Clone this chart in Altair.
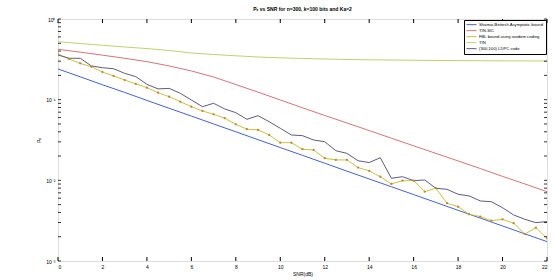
import altair as alt
import pandas as pd

# ---------------- data ----------------
snr_int = [0, 1, 2, 3, 4, 5, 6, 7, 8, 9, 10, 11, 12, 13, 14, 15, 16, 17, 18, 19, 20, 21, 22]
snr_half = [0, 0.5, 1, 1.5, 2, 2.5, 3, 3.5, 4, 4.5, 5, 5.5, 6, 6.5, 7, 7.5, 8, 8.5, 9, 9.5,
            10, 10.5, 11, 11.5, 12, 12.5, 13, 13.5, 14, 14.5, 15, 15.5, 16, 16.5, 17, 17.5,
            18, 18.5, 19, 19.5, 20, 20.5, 21, 21.5, 22]

shamai = [0.240, 0.192, 0.153, 0.123, 0.0979, 0.0782, 0.0626, 0.0500, 0.0400, 0.0319,
          0.0255, 0.0204, 0.0163, 0.0130, 0.0104, 0.00833, 0.00666, 0.00532, 0.00425,
          0.00340, 0.00272, 0.00217, 0.00174]
tin_sic = [0.421, 0.388, 0.356, 0.326, 0.296, 0.262, 0.227, 0.191, 0.154, 0.124, 0.0991,
           0.0793, 0.0637, 0.0514, 0.0414, 0.0333, 0.0268, 0.0216, 0.0174, 0.0140, 0.0112,
           0.00903, 0.00723]
tin = [0.523, 0.497, 0.472, 0.450, 0.430, 0.407, 0.379, 0.363, 0.350, 0.338, 0.330, 0.324,
       0.319, 0.315, 0.312, 0.310, 0.308, 0.306, 0.305, 0.304, 0.303, 0.302, 0.302]
fbl = [0.368, 0.319, 0.282, 0.256, 0.220, 0.197, 0.175, 0.157, 0.141, 0.122, 0.109, 0.0944,
       0.0818, 0.0724, 0.0659, 0.0589, 0.0495, 0.0430, 0.0422, 0.0366, 0.0293, 0.0293,
       0.0243, 0.0238, 0.0188, 0.0179, 0.0179, 0.0144, 0.0131, 0.0111, 0.00902, 0.00991,
       0.00991, 0.00724, 0.00798, 0.00520, 0.00472, 0.00380, 0.00355, 0.00316, 0.00329,
       0.00294, 0.00216, 0.00259, 0.00191]
ldpc = [0.358, 0.326, 0.326, 0.262, 0.249, 0.242, 0.212, 0.193, 0.155, 0.136, 0.138, 0.120,
        0.0991, 0.0818, 0.0902, 0.0767, 0.0690, 0.0571, 0.0633, 0.0533, 0.0442, 0.0365,
        0.0358, 0.0316, 0.0301, 0.0233, 0.0216, 0.0175, 0.0166, 0.0191, 0.0106, 0.0111,
        0.00991, 0.0101, 0.00797, 0.00774, 0.00672, 0.00640, 0.00555, 0.00543, 0.00458,
        0.00372, 0.00329, 0.00299, 0.00308]

series_names = ["Shamai-Bettesh Asymptotic bound", "TIN-SIC",
                "FBL bound using random coding", "TIN", "(300,100) LDPC code"]
series_colors = ["#4563c9", "#d4747a", "#c9c23c", "#c2d06e", "#5d5c7c"]

x_ticks = [0, 2, 4, 6, 8, 10, 12, 14, 16, 18, 20, 22]
y_major = [0.001, 0.01, 0.1, 1]
y_major_labels = ["10⁻³", "10⁻²", "10⁻¹", "10⁰"]
y_minor = [0.002, 0.003, 0.004, 0.005, 0.006, 0.007, 0.008, 0.009,
           0.02, 0.03, 0.04, 0.05, 0.06, 0.07, 0.08, 0.09,
           0.2, 0.3, 0.4, 0.5, 0.6, 0.7, 0.8, 0.9]

title_text = "Pₑ vs SNR for n=300, k=100 bits and Ka=2"

# ---------------- build tables ----------------
rows = []
for name, xs, ys in [(series_names[0], snr_int, shamai),
                     (series_names[1], snr_int, tin_sic),
                     (series_names[2], snr_half, fbl),
                     (series_names[3], snr_int, tin),
                     (series_names[4], snr_half, ldpc)]:
    for xv, yv in zip(xs, ys):
        rows.append({"series": name, "snr": xv, "pe": yv})
df = pd.DataFrame(rows)
df_fbl = df[df["series"] == series_names[2]]

W, H = 489, 242
FONT = "Liberation Sans"

label_expr = " : ".join(
    f"datum.value < {v * 1.5} ? '{lab}'" for v, lab in zip(y_major, y_major_labels)
) + " : ''"

xscale = alt.Scale(domain=[0, 22], nice=False, zero=False)
yscale = alt.Scale(type="log", domain=[0.001, 1], nice=False)

x_axis = alt.Axis(values=x_ticks, ticks=False, domain=False, grid=False,
                  labelFontSize=5, labelPadding=3, labelFont=FONT, labelColor="black",
                  title="SNR(dB)", titleFontSize=5, titleFont=FONT, titleColor="black",
                  titleFontWeight="normal", titlePadding=2)
y_axis = alt.Axis(values=y_major, ticks=False, domain=False, grid=False,
                  labelExpr=label_expr, labelFontSize=5, labelPadding=3,
                  labelFont=FONT, labelColor="black", title="Pₑ", titleFontSize=5,
                  titleFont=FONT, titleColor="black", titleFontWeight="normal",
                  titlePadding=4)

X = alt.X("snr:Q", scale=xscale, axis=x_axis)
Y = alt.Y("pe:Q", scale=yscale, axis=y_axis)

lines = alt.Chart(df).mark_line(strokeWidth=1, clip=True).encode(
    x=X, y=Y,
    color=alt.Color("series:N", sort=series_names,
                    scale=alt.Scale(domain=series_names, range=series_colors),
                    legend=alt.Legend(title=None, orient="top-right", offset=1,
                                      symbolType="stroke", symbolSize=100,
                                      symbolStrokeWidth=1, clipHeight=5.3,
                                      rowPadding=0, padding=2, labelFontSize=4.2,
                                      labelFont=FONT, labelOffset=2,
                                      strokeColor="black", fillColor="white",
                                      labelLimit=200)),
    order="snr:Q",
)

points = alt.Chart(df_fbl).mark_point(filled=True, size=5, color="#c8802c",
                                      opacity=1, clip=True).encode(x=X, y=Y)

df_xt = pd.DataFrame({"snr": x_ticks})
xt_bottom = alt.Chart(df_xt).mark_rule(color="black", strokeWidth=1).encode(
    x=X, y=alt.value(H), y2=alt.value(H - 4))
xt_top = alt.Chart(df_xt).mark_rule(color="black", strokeWidth=1).encode(
    x=X, y=alt.value(0), y2=alt.value(4))

df_yt = pd.DataFrame({"pe": y_major + y_minor})
yt_left = alt.Chart(df_yt).mark_rule(color="black", strokeWidth=0.8).encode(
    y=Y, x=alt.value(0), x2=alt.value(3))
yt_right = alt.Chart(df_yt).mark_rule(color="black", strokeWidth=0.8).encode(
    y=Y, x=alt.value(W), x2=alt.value(W - 3))

chart = alt.layer(lines, points, xt_bottom, xt_top, yt_left, yt_right).properties(
    width=W, height=H,
    title=alt.Title(title_text, fontSize=5, fontWeight="bold", font=FONT,
                    offset=5, anchor="middle", color="black"),
    autosize=alt.AutoSizeParams(type="none"),
    padding={"left": 58, "top": 19, "right": 11, "bottom": 19},
).configure_view(stroke="black", strokeWidth=1).configure(background="white")

chart.save("out.html", embed_options={"renderer": "svg", "actions": False})
